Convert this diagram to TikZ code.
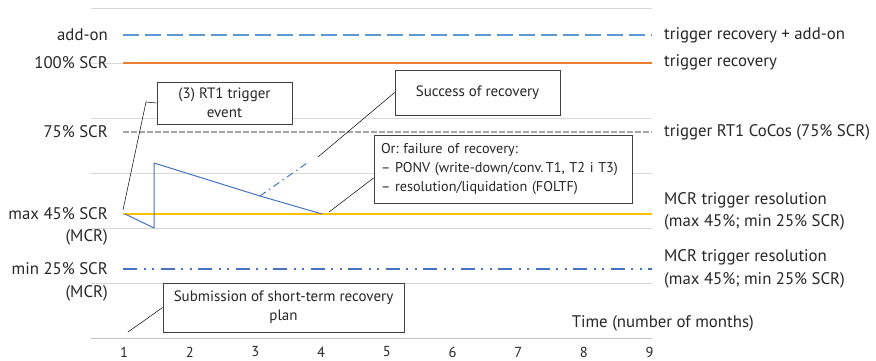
\documentclass[tikz,border=0pt]{standalone}
\usepackage{fontspec}
\setmainfont{PT Sans}
\usetikzlibrary{calc}
\definecolor{addonblue}{HTML}{5B9BD5}
\definecolor{xorange}{HTML}{ED7D31}
\definecolor{xgray}{HTML}{A5A5A5}
\definecolor{xyellow}{HTML}{FFC000}
\definecolor{xblue}{HTML}{4472C4}
\definecolor{gridc}{HTML}{D9D9D9}
\definecolor{txt}{HTML}{262626}
\definecolor{boxc}{HTML}{404040}
\frenchspacing
\begin{document}
\begin{tikzpicture}[x=1pt,y=-1pt,
  lbl/.style={font=\fontsize{16.8}{20}\selectfont, text=txt, inner sep=0pt},
  lblL/.style={lbl, anchor=east, align=right},
  lblR/.style={lbl, anchor=west, align=left},
  callout/.style={draw=boxc, line width=0.8pt, fill=white, font=\fontsize{15}{19}\selectfont, text=txt, inner sep=2pt},
  leader/.style={draw=black, line width=0.5pt},
  grid/.style={draw=gridc, line width=0.9pt},
  ticklbl/.style={font=\fontsize{14.5}{17}\selectfont, text=txt, inner sep=0pt, anchor=center}
]
\useasboundingbox (0,0) rectangle (876,361);
% gridlines
\foreach \y in {8,63,118,173,228,283} {\draw[grid] (91,\y) -- (652,\y);}
\draw[draw=gridc!90!black, line width=1pt] (91,338) -- (652,338);
% series lines
\draw[addonblue, line width=2.4pt, dash pattern=on 16pt off 6pt] (123,35) -- (652,35);
\draw[xorange, line width=2.3pt] (123,63) -- (652,63);
\draw[xgray, line width=1.8pt, dash pattern=on 5.5pt off 2.5pt] (123,132) -- (652,132);
\draw[xyellow, line width=2pt] (123,214) -- (652,214);
\draw[xblue, line width=2.5pt, dash pattern=on 14pt off 6.5pt on 2pt off 6.5pt on 2pt off 6.5pt] (123,269) -- (652,269);
% data line
\coordinate (p0) at (125,214);
\coordinate (p1) at (154,228);
\coordinate (p2) at (154,163);
\coordinate (p3) at (260,196);
\coordinate (p4) at (322,214);
\coordinate (p5) at (307,163);
\draw[xblue, line width=1pt, line join=round] (p0) -- (p1) -- (p2) -- (p3) -- (p4);
\draw[xblue, line width=1pt, dash pattern=on 7pt off 4pt on 1.5pt off 4pt] (p3) -- (p5);
% left labels
\node[lblL] (la) at (108,35) {add-on};
\node[lblL] (lb) at (108,63) {100\% SCR};
\node[lblL] (lc) at (108,132) {75\% SCR};
\node[lblL] (ld) at (108,214) {max 45\% SCR};
\node[lblL] (ld2) at (108,237) {(MCR)};
\node[lblL] (le) at (108,269) {min 25\% SCR};
\node[lblL] (le2) at (108,293) {(MCR)};
% right labels
\node[lblR] (ra) at (664,35) {trigger recovery + add-on};
\node[lblR] (rb) at (664,62) {trigger recovery};
\node[lblR] (rc) at (664,132) {trigger RT1 CoCos (75\% SCR)};
\node[lblR] (rd) at (664,200) {MCR trigger resolution};
\node[lblR] (rd2) at (664,222) {(max 45\%; min 25\% SCR)};
\node[lblR] (re) at (664,257) {MCR trigger resolution};
\node[lblR] (re2) at (664,280) {(max 45\%; min 25\% SCR)};
\node[lbl, anchor=east] (time) at (754,323) {Time (number of months)};
% x tick labels
\foreach \k in {1,...,9} {\node[ticklbl] (t\k) at ({124+(\k-1)*65.7},352) {\k};}
% callouts
\node[callout, minimum width=135pt, minimum height=42pt, align=center] (rt1) at (224.5,103) {(3) RT1 trigger\\event};
\node[callout, minimum width=165pt, minimum height=45pt, align=center] (succ) at (477.5,92.5) {Success of recovery};
\node[callout, font=\fontsize{14.2}{19}\selectfont, minimum width=258pt, minimum height=68pt, align=left, inner xsep=7pt, text width=244pt] (fail) at (503,169) {\mbox{Or: failure of recovery:}\\\mbox{– PONV (write-down/conv.\,T1, T2 i T3)}\\\mbox{– resolution/liquidation (FOLTF)}};
\node[callout, minimum width=241pt, minimum height=49pt, align=center] (subm) at (283.5,307.5) {Submission of short-term recovery\\plan};
% leaders
\coordinate (rt1k) at (146,102);
\coordinate (rt1e) at (123,210);
\coordinate (succe) at (318,157);
\coordinate (faile) at (329,212);
\coordinate (subme) at (128,332);
\draw[leader] (rt1.west) -- (rt1k) -- (rt1e);
\draw[leader] (succ.west) -- (succe);
\draw[leader] ([yshift=-9pt]fail.west) -- (faile);
\draw[leader] (subm.west) -- (subme);
\end{tikzpicture}
\end{document}
